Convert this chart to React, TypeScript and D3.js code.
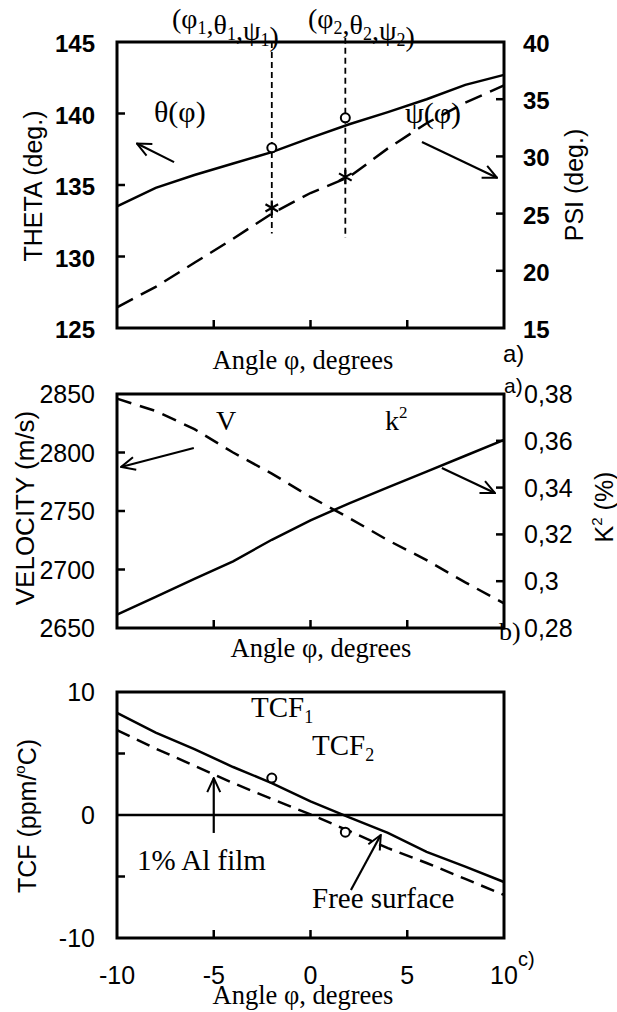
import React from 'react';
import * as d3 from 'd3';

// angle grid (degrees)
const phi = [-10, -8, -6, -4, -2, 0, 2, 4, 6, 8, 10];

// a) Euler angles
const theta = [133.5, 134.8, 135.7, 136.5, 137.3, 138.3, 139.25, 140.1, 141.0, 142.0, 142.7];
const psi = [16.8, 18.6, 20.7, 22.8, 25.0, 26.8, 28.2, 30.7, 32.9, 34.7, 36.2];

// b) velocity and coupling
const velocity = [2846, 2835.5, 2820, 2800, 2782, 2762, 2744, 2725, 2708, 2689, 2671];
const k2 = [0.2857, 0.2933, 0.301, 0.3085, 0.3177, 0.326, 0.3333, 0.3401, 0.3468, 0.3536, 0.3604];

// c) TCF
const tcfFree = [8.3, 6.7, 5.35, 3.9, 2.6, 1.1, -0.2, -1.45, -3.0, -4.2, -5.45];
const tcfFilm = [6.9, 5.4, 4.0, 2.6, 1.3, 0.05, -1.3, -2.7, -3.9, -5.2, -6.5];

// marked points
const markPhi = [-2, 1.8];
const markTheta = [137.6, 139.7];
const markPsi = [25.5, 28.2];
const markTcf = [3.0, -1.4];
const markLineTop = [145, 145.3];
const markLineBottom = [131.6, 131.3];

// tick labels
const xTicks = [-10, -5, 0, 5, 10];
const thetaTicks = [125, 130, 135, 140, 145];
const psiTicks = [15, 20, 25, 30, 35, 40];
const velTicks = [2650, 2700, 2750, 2800, 2850];
const k2Ticks = [0.28, 0.3, 0.32, 0.34, 0.36, 0.38];
const k2TickLabels = ['0,28', '0,3', '0,32', '0,34', '0,36', '0,38'];
const tcfTicks = [-10, 0, 10];
const tcfMinor = [-5, 5];

const SANS = '"Liberation Sans", Arial, sans-serif';
const SERIF = '"Liberation Serif", "Times New Roman", serif';

const x = d3.scaleLinear().domain([-10, 10]).range([117, 504]);
const yTheta = d3.scaleLinear().domain([125, 145]).range([328, 42]);
const yPsi = d3.scaleLinear().domain([15, 40]).range([328, 42]);
const yVel = d3.scaleLinear().domain([2650, 2850]).range([628, 394]);
const yK2 = d3.scaleLinear().domain([0.28, 0.38]).range([628, 394]);
const yTcf = d3.scaleLinear().domain([-10, 10]).range([938, 692]);

const mkLine = (ys: number[], y: d3.ScaleLinear<number, number>) =>
  d3.line<number>().x((_, i) => x(phi[i])).y((v) => y(v))(ys) as string;

const star = d3.symbol().type(d3.symbolAsterisk).size(150)() as string;

function Frame({ y, left, right }: { y: d3.ScaleLinear<number, number>; left: number[]; right: number[] }) {
  const [yb, yt] = y.range();
  const [xl, xr] = x.range();
  return (
    <g stroke="#000" fill="none">
      {[-5, 0, 5].map((t) => (
        <line key={'b' + t} x1={x(t)} x2={x(t)} y1={yb} y2={yb - 8} strokeWidth={2.5} />
      ))}
      {left.map((t) => (
        <line key={'l' + t} x1={xl} x2={xl + 8} y1={y(t)} y2={y(t)} strokeWidth={2.5} />
      ))}
      {right.map((t) => (
        <line key={'r' + t} x1={xr} x2={xr - 8} y1={y(t)} y2={y(t)} strokeWidth={2.5} />
      ))}
      <rect x={xl} y={yt} width={xr - xl} height={yb - yt} strokeWidth={3} />
    </g>
  );
}

function Arrow({ p0, p1, y }: { p0: number[]; p1: number[]; y: d3.ScaleLinear<number, number> }) {
  return (
    <line x1={x(p0[0])} y1={y(p0[1])} x2={x(p1[0])} y2={y(p1[1])}
      stroke="#000" strokeWidth={2.2} markerEnd="url(#head)" />
  );
}

function Sub({ base, sub, size = 18 }: { base: string; sub: string; size?: number }) {
  return (
    <>
      <tspan>{base}</tspan>
      <tspan fontSize={size} dy={6}>{sub}</tspan>
      <tspan dy={-6}></tspan>
    </>
  );
}

export default function App() {
  return (
    <svg width={617} height={1012} style={{ position: 'absolute', left: 0, top: 0, background: '#fff' }}>
      <defs>
        <marker id="head" viewBox="0 0 16 16" refX={15} refY={8} markerWidth={16} markerHeight={16}
          markerUnits="userSpaceOnUse" orient="auto">
          <path d="M1,1.5 L15,8 L1,14.5" fill="none" stroke="#000" strokeWidth={2} />
        </marker>
      </defs>

      {/* ---------- a) ---------- */}
      <text x={172} y={28} fontFamily={SERIF} fontSize={28}>
        (<Sub base="φ" sub="1" />,<Sub base="θ" sub="1" />,<Sub base="ψ" sub="1" />)
      </text>
      <text x={308} y={28} fontFamily={SERIF} fontSize={28}>
        (<Sub base="φ" sub="2" />,<Sub base="θ" sub="2" />,<Sub base="ψ" sub="2" />)
      </text>
      {markPhi.map((p, i) => (
        <line key={'v' + i} x1={x(p)} x2={x(p)} y1={yTheta(markLineTop[i])} y2={yTheta(markLineBottom[i])}
          stroke="#000" strokeWidth={1.8} strokeDasharray="6,4" />
      ))}
      <path d={mkLine(theta, yTheta)} fill="none" stroke="#000" strokeWidth={2.5} />
      <path d={mkLine(psi, yPsi)} fill="none" stroke="#000" strokeWidth={2.5} strokeDasharray="18,9" />
      {markPhi.map((p, i) => (
        <circle key={'c' + i} cx={x(p)} cy={yTheta(markTheta[i])} r={4.5} fill="#fff" stroke="#000" strokeWidth={2} />
      ))}
      {markPhi.map((p, i) => (
        <path key={'s' + i} d={star} transform={`translate(${x(p)},${yPsi(markPsi[i])})`} fill="none" stroke="#000" strokeWidth={2.2} />
      ))}
      <Frame y={yTheta} left={[130, 135, 140]} right={[20, 25, 30, 35].map((v) => yTheta.invert(yPsi(v)))} />
      <text x={154} y={122} fontFamily={SERIF} fontSize={30}>θ(φ)</text>
      <text x={405} y={123} fontFamily={SERIF} fontSize={30}>ψ(φ)</text>
      <Arrow p0={[-7.05, 136.6]} p1={[-8.97, 137.9]} y={yTheta} />
      <Arrow p0={[5.76, 138.0]} p1={[9.64, 135.5]} y={yTheta} />
      <g fontFamily={SANS} fontSize={24} fontWeight="bold">
        {thetaTicks.map((t) => (
          <text key={t} x={95} y={yTheta(t) + 10} textAnchor="end">{t}</text>
        ))}
        {psiTicks.map((t) => (
          <text key={t} x={523} y={yPsi(t) + 10}>{t}</text>
        ))}
      </g>
      <text transform={`translate(42,186) rotate(-90)`} textAnchor="middle" fontFamily={SANS} fontSize={25}>THETA (deg.)</text>
      <text transform={`translate(583,185) rotate(-90)`} textAnchor="middle" fontFamily={SANS} fontSize={25}>PSI (deg.)</text>
      <text x={303} y={369} textAnchor="middle" fontFamily={SERIF} fontSize={26.5}>Angle φ, degrees</text>
      <text x={503} y={362} fontFamily={SANS} fontSize={24}>a)</text>

      {/* ---------- b) ---------- */}
      <path d={mkLine(velocity, yVel)} fill="none" stroke="#000" strokeWidth={2.5} strokeDasharray="15,9" />
      <path d={mkLine(k2, yK2)} fill="none" stroke="#000" strokeWidth={2.5} />
      <Frame y={yVel} left={[2700, 2750, 2800]} right={[0.3, 0.32, 0.34, 0.36].map((v) => yVel.invert(yK2(v)))} />
      <text x={216} y={430} fontFamily={SERIF} fontSize={28}>V</text>
      <text x={385} y={430} fontFamily={SERIF} fontSize={28}>k<tspan fontSize={17} dy={-12}>2</tspan></text>
      <Arrow p0={[-6.03, 2803.8]} p1={[-9.79, 2787.6]} y={yVel} />
      <Arrow p0={[6.79, 2786.8]} p1={[9.53, 2765.4]} y={yVel} />
      <g fontFamily={SANS} fontSize={25}>
        {velTicks.map((t) => (
          <text key={t} x={95} y={yVel(t) + 9} textAnchor="end">{t}</text>
        ))}
        {k2Ticks.map((t, i) => (
          <text key={t} x={524} y={yK2(t) + 9}>{k2TickLabels[i]}</text>
        ))}
      </g>
      <text x={504} y={393} fontFamily={SANS} fontSize={21}>a)</text>
      <text x={499} y={640} fontFamily={SERIF} fontSize={26}>b)</text>
      <text transform={`translate(34,508) rotate(-90)`} textAnchor="middle" fontFamily={SANS} fontSize={26}>VELOCITY (m/s)</text>
      <text transform={`translate(613,507) rotate(-90)`} textAnchor="middle" fontFamily={SANS} fontSize={25}>
        K<tspan fontSize={15} dy={-11}>2</tspan><tspan dy={11}> (%)</tspan>
      </text>
      <text x={321} y={657} textAnchor="middle" fontFamily={SERIF} fontSize={26.5}>Angle φ, degrees</text>

      {/* ---------- c) ---------- */}
      <line x1={x(-10)} x2={x(10)} y1={yTcf(0)} y2={yTcf(0)} stroke="#000" strokeWidth={2.5} />
      <path d={mkLine(tcfFree, yTcf)} fill="none" stroke="#000" strokeWidth={2.5} />
      <path d={mkLine(tcfFilm, yTcf)} fill="none" stroke="#000" strokeWidth={2.5} strokeDasharray="14,8" />
      {markPhi.map((p, i) => (
        <circle key={'t' + i} cx={x(p)} cy={yTcf(markTcf[i])} r={4.5} fill="#fff" stroke="#000" strokeWidth={2} />
      ))}
      <Frame y={yTcf} left={tcfMinor} right={[]} />
      <text x={251} y={717} fontFamily={SERIF} fontSize={29}><Sub base="TCF" sub="1" size={18} /></text>
      <text x={312} y={755} fontFamily={SERIF} fontSize={29}><Sub base="TCF" sub="2" size={18} /></text>
      <text x={137} y={870} fontFamily={SERIF} fontSize={29}>1% Al film</text>
      <text x={312} y={908} fontFamily={SERIF} fontSize={29}>Free surface</text>
      <Arrow p0={[-5.0, -1.46]} p1={[-5.0, 3.0]} y={yTcf} />
      <Arrow p0={[2.09, -6.1]} p1={[3.63, -1.63]} y={yTcf} />
      <g fontFamily={SANS} fontSize={25}>
        {tcfTicks.map((t) => (
          <text key={t} x={95} y={yTcf(t) + 9} textAnchor="end">{t}</text>
        ))}
        {xTicks.map((t) => (
          <text key={t} x={x(t)} y={984} textAnchor="middle">{t}</text>
        ))}
      </g>
      <text x={518} y={966} fontFamily={SANS} fontSize={20}>c)</text>
      <text transform={`translate(36,816) rotate(-90)`} textAnchor="middle" fontFamily={SANS} fontSize={25}>
        TCF (ppm/<tspan fontSize={15} dy={-11}>o</tspan><tspan dy={11}>C)</tspan>
      </text>
      <text x={303} y={1004} textAnchor="middle" fontFamily={SERIF} fontSize={26.5}>Angle φ, degrees</text>
    </svg>
  );
}
